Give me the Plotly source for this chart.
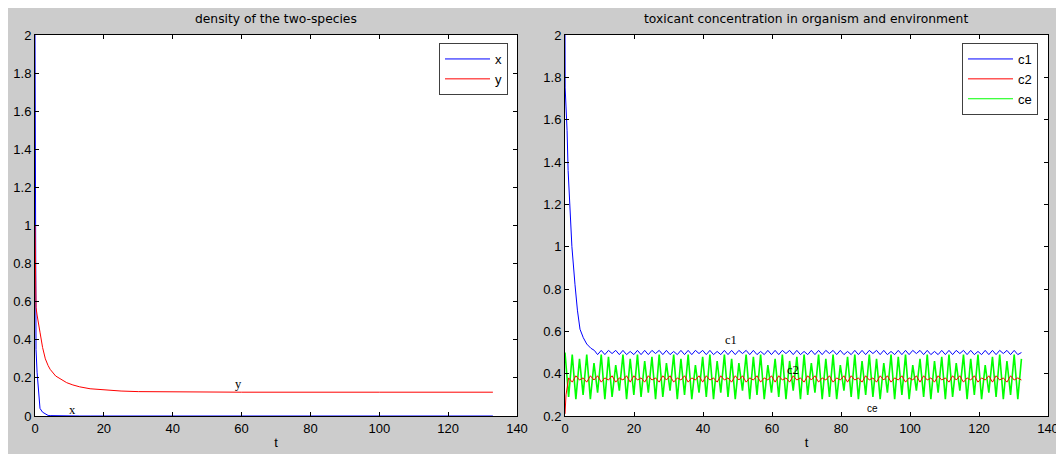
import plotly.graph_objects as go

# ---------------- data ----------------
# left panel: density of the two species
t_xy = [0, 0.05, 0.15, 0.3, 0.6, 1.0, 1.45, 2.2, 3.0, 3.8, 4.4, 6, 8, 9.2, 11, 13, 16, 20, 25, 30, 40, 60, 100, 133]
x_vals = [2.0, 1.2, 0.7, 0.35, 0.23, 0.11, 0.04, 0.02, 0.01, 0.003, 0.002, 0.001, 0.0, 0.0, 0.0, 0.0, 0.0, 0.0, 0.0, 0.0, 0.0, 0.0, 0.0, 0.0]
y_vals = [1.0, 0.75, 0.62, 0.57, 0.53, 0.48, 0.44, 0.36, 0.30, 0.265, 0.245, 0.21, 0.19, 0.175, 0.163, 0.153, 0.143, 0.136, 0.131, 0.128, 0.126, 0.125, 0.125, 0.125]

# right panel: toxicant concentrations
HALF_PERIOD = 1.05
t_osc = [round(i * HALF_PERIOD, 3) for i in range(127)]

c1_t_early = [0, 0.05, 0.3, 0.6, 0.9, 1.3, 2.0, 2.9, 3.6, 4.35, 5.3, 6.3, 7.5, 8.5]
c1_early = [2.0, 1.75, 1.66, 1.55, 1.36, 1.2, 1.0, 0.82, 0.70, 0.61, 0.57, 0.54, 0.52, 0.51]
c1_osc = [  # values on t_osc from index 9 (t = 9.45) onwards
    0.49, 0.51, 0.49, 0.51, 0.495, 0.51, 0.49, 0.51, 0.49, 0.505,
    0.49, 0.51, 0.49, 0.51, 0.49, 0.51, 0.495, 0.51, 0.49, 0.51,
    0.49, 0.505, 0.49, 0.51, 0.49, 0.51, 0.49, 0.51, 0.495, 0.51,
    0.49, 0.51, 0.49, 0.505, 0.49, 0.51, 0.49, 0.51, 0.49, 0.51,
    0.495, 0.51, 0.49, 0.51, 0.49, 0.505, 0.49, 0.51, 0.49, 0.51,
    0.49, 0.51, 0.495, 0.51, 0.49, 0.51, 0.49, 0.505, 0.49, 0.51,
    0.49, 0.51, 0.49, 0.51, 0.495, 0.51, 0.49, 0.51, 0.49, 0.505,
    0.49, 0.51, 0.49, 0.51, 0.49, 0.51, 0.495, 0.51, 0.49, 0.51,
    0.49, 0.505, 0.49, 0.51, 0.49, 0.51, 0.49, 0.51, 0.495, 0.51,
    0.49, 0.51, 0.49, 0.505, 0.49, 0.51, 0.49, 0.51, 0.49, 0.51,
    0.495, 0.51, 0.49, 0.51, 0.49, 0.505, 0.49, 0.51, 0.49, 0.51,
    0.49, 0.51, 0.495, 0.51, 0.49, 0.51, 0.49, 0.50,
]

c2_t_early = [0, 0.3]
c2_early = [0.21, 0.30]
c2_osc = [  # values on t_osc from index 1 onwards
    0.38, 0.36, 0.39, 0.37, 0.38, 0.36, 0.39, 0.37, 0.39, 0.36,
    0.38, 0.37, 0.39, 0.36, 0.38, 0.37, 0.39, 0.36, 0.39, 0.37,
    0.38, 0.36, 0.39, 0.37, 0.38, 0.36, 0.39, 0.37, 0.39, 0.36,
    0.38, 0.37, 0.39, 0.36, 0.38, 0.37, 0.39, 0.36, 0.39, 0.37,
    0.38, 0.36, 0.39, 0.37, 0.38, 0.36, 0.39, 0.37, 0.39, 0.36,
    0.38, 0.37, 0.39, 0.36, 0.38, 0.37, 0.39, 0.36, 0.39, 0.37,
    0.38, 0.36, 0.39, 0.37, 0.38, 0.36, 0.39, 0.37, 0.39, 0.36,
    0.38, 0.37, 0.39, 0.36, 0.38, 0.37, 0.39, 0.36, 0.39, 0.37,
    0.38, 0.36, 0.39, 0.37, 0.38, 0.36, 0.39, 0.37, 0.39, 0.36,
    0.38, 0.37, 0.39, 0.36, 0.38, 0.37, 0.39, 0.36, 0.39, 0.37,
    0.38, 0.36, 0.39, 0.37, 0.38, 0.36, 0.39, 0.37, 0.39, 0.36,
    0.38, 0.37, 0.39, 0.36, 0.38, 0.37, 0.39, 0.36, 0.39, 0.37,
    0.38, 0.36, 0.39, 0.37, 0.38, 0.37,
]

ce_osc = [  # values on t_osc
    0.50, 0.29, 0.49, 0.28, 0.47, 0.30, 0.49, 0.28, 0.45, 0.31,
    0.49, 0.28, 0.48, 0.29, 0.44, 0.32, 0.49, 0.28, 0.47, 0.30,
    0.49, 0.29, 0.46, 0.31, 0.48, 0.28, 0.49, 0.29, 0.45, 0.32,
    0.49, 0.28, 0.47, 0.30, 0.49, 0.28, 0.44, 0.31, 0.48, 0.29,
    0.49, 0.28, 0.46, 0.31, 0.49, 0.29, 0.47, 0.28, 0.45, 0.32,
    0.49, 0.28, 0.48, 0.30, 0.49, 0.28, 0.44, 0.31, 0.47, 0.29,
    0.49, 0.28, 0.46, 0.32, 0.48, 0.28, 0.49, 0.30, 0.45, 0.31,
    0.49, 0.28, 0.47, 0.29, 0.49, 0.28, 0.44, 0.32, 0.48, 0.29,
    0.49, 0.28, 0.46, 0.30, 0.49, 0.29, 0.47, 0.28, 0.45, 0.31,
    0.49, 0.28, 0.48, 0.30, 0.49, 0.28, 0.44, 0.32, 0.47, 0.29,
    0.49, 0.28, 0.46, 0.31, 0.48, 0.28, 0.49, 0.29, 0.45, 0.32,
    0.49, 0.28, 0.47, 0.30, 0.49, 0.28, 0.44, 0.31, 0.48, 0.29,
    0.49, 0.28, 0.46, 0.30, 0.49, 0.28, 0.47,
]

left_title = "density of the two-species"
right_title = "toxicant concentration in organism and environment"
x_ticks = [0, 20, 40, 60, 80, 100, 120, 140]
y_ticks_left = [0, 0.2, 0.4, 0.6, 0.8, 1.0, 1.2, 1.4, 1.6, 1.8, 2.0]
y_ticks_right = [0.2, 0.4, 0.6, 0.8, 1.0, 1.2, 1.4, 1.6, 1.8, 2.0]

# ---------------- figure ----------------
# the page has an 8px body margin, so page pixel p == figure pixel p - OFF.
# The figure is as large as the window, so it overflows past the right/bottom edges.
OFF = 8
W, H = 1064, 454
AX_L, AX_R, AX_T, AX_B = 35, 1048, 35, 416   # page pixels of the axes block
ML = AX_L - OFF
MT = AX_T - OFF
MR = W - (AX_R - OFF)
MB = H - (AX_B - OFF)
PW = W - ML - MR
PH = H - MT - MB

def px_x(p):  # page pixel -> paper x
    return (p - AX_L) / PW

def px_y(p):  # page pixel -> paper y
    return 1 - (p - AX_T) / PH

fig = go.Figure()

fig.add_trace(go.Scatter(x=t_xy, y=x_vals, mode="lines", name="x",
                         line=dict(color="#0000ff", width=1), xaxis="x", yaxis="y", legend="legend"))
fig.add_trace(go.Scatter(x=t_xy, y=y_vals, mode="lines", name="y",
                         line=dict(color="#ff0000", width=1), xaxis="x", yaxis="y", legend="legend"))

c1_t = c1_t_early + t_osc[9:]
c1 = c1_early + c1_osc
c2_t = c2_t_early + t_osc[1:]
c2 = c2_early + c2_osc

fig.add_trace(go.Scatter(x=t_osc, y=ce_osc, mode="lines", name="ce", showlegend=False,
                         line=dict(color="#00ff00", width=1.6), xaxis="x2", yaxis="y2"))
fig.add_trace(go.Scatter(x=c1_t, y=c1, mode="lines", name="c1",
                         line=dict(color="#0000ff", width=1), xaxis="x2", yaxis="y2", legend="legend2"))
fig.add_trace(go.Scatter(x=c2_t, y=c2, mode="lines", name="c2",
                         line=dict(color="#ff0000", width=1), xaxis="x2", yaxis="y2", legend="legend2"))
# legend entry for ce (keeps legend order c1, c2, ce while drawing ce underneath)
fig.add_trace(go.Scatter(x=[None], y=[None], mode="lines", name="ce",
                         line=dict(color="#00ff00", width=1), xaxis="x2", yaxis="y2", legend="legend2"))

tickfont = dict(family="Liberation Sans, Arial, sans-serif", size=13, color="#000000")
axis_common = dict(showline=True, linecolor="#000000", linewidth=1, mirror="ticks",
                   ticks="inside", ticklen=4, tickcolor="#000000", showgrid=False,
                   zeroline=False, tickfont=tickfont, automargin=False)

dom_left = [0, px_x(517)]
dom_right = [px_x(565), 1]

legend_common = dict(xanchor="right", yanchor="top", bgcolor="#ffffff",
                     bordercolor="#404040", borderwidth=1,
                     font=dict(family="Liberation Sans, Arial, sans-serif", size=13),
                     tracegroupgap=0, itemwidth=45)

fig.update_layout(
    width=W, height=H,
    margin=dict(l=ML, r=MR, t=MT, b=MB, autoexpand=False),
    paper_bgcolor="#cccccc", plot_bgcolor="#ffffff",
    font=dict(family="Liberation Sans, Arial, sans-serif", size=13, color="#000000"),
    xaxis=dict(domain=dom_left, range=[0, 140], tickvals=x_ticks, anchor="y",
               title=dict(text="t", standoff=3, font=dict(size=13)), **axis_common),
    yaxis=dict(domain=[0, 1], range=[0, 2], tickvals=y_ticks_left,
               ticktext=[f"{v:g}" for v in y_ticks_left], anchor="x", **axis_common),
    xaxis2=dict(domain=dom_right, range=[0, 140], tickvals=x_ticks, anchor="y2",
                title=dict(text="t", standoff=3, font=dict(size=13)), **axis_common),
    yaxis2=dict(domain=[0, 1], range=[0.2, 2], tickvals=y_ticks_right,
                ticktext=[f"{v:g}" for v in y_ticks_right], anchor="x2", **axis_common),
    legend=dict(x=px_x(508), y=px_y(43), **legend_common),
    legend2=dict(x=px_x(1038), y=px_y(43), **legend_common),
    showlegend=True,
)

# titles
title_font = dict(family="DejaVu Sans, sans-serif", size=12.3, color="#000000")
fig.add_annotation(text=left_title, xref="paper", yref="paper",
                   x=(dom_left[0] + dom_left[1]) / 2, y=px_y(19), showarrow=False,
                   font=title_font, xanchor="center", yanchor="middle")
fig.add_annotation(text=right_title, xref="paper", yref="paper",
                   x=(dom_right[0] + dom_right[1]) / 2, y=px_y(19), showarrow=False,
                   font=title_font, xanchor="center", yanchor="middle")

# in-plot labels
serif = dict(family="Liberation Serif, Times New Roman, serif", size=12.5, color="#000000")
fig.add_annotation(text="x", x=11, y=0.03, xref="x", yref="y", showarrow=False, font=serif)
fig.add_annotation(text="y", x=59, y=0.17, xref="x", yref="y", showarrow=False, font=serif)
fig.add_annotation(text="c1", x=48, y=0.56, xref="x2", yref="y2", showarrow=False, font=serif)
fig.add_annotation(text="c2", x=66, y=0.415, xref="x2", yref="y2", showarrow=False, font=serif)
fig.add_annotation(text="ce", x=89, y=0.235, xref="x2", yref="y2", showarrow=False,
                   font=dict(family="Liberation Sans, Arial, sans-serif", size=10, color="#000000"))

# no scrollbars: the oversized figure is simply clipped at the window edge
fig.write_html("out.html",
               post_script="document.documentElement.style.overflow='hidden';"
                           "document.body.style.overflow='hidden';")
